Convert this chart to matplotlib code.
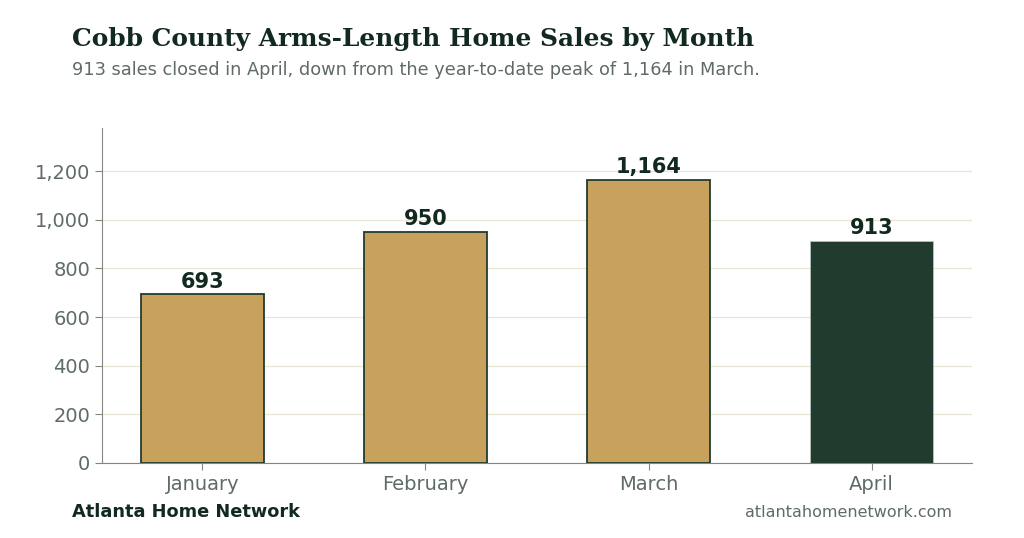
import matplotlib
matplotlib.use("Agg")
import matplotlib.pyplot as plt
from matplotlib.ticker import FuncFormatter

months = ["January", "February", "March", "April"]
sales = [693, 950, 1164, 913]

gold = "#C8A25C"
dark = "#213B2F"
ink = "#12291F"
grey = "#5F6B66"

fig = plt.figure(figsize=(10.24, 5.38), dpi=100)
ax = fig.add_axes([102 / 1024, 1 - 463 / 538, 870 / 1024, 335 / 538])

colors = [gold] * (len(months) - 1) + [dark]
edges = [dark] * (len(months) - 1) + ["#B8C0BB"]
widths = [1.3] * (len(months) - 1) + [0.6]
bars = ax.bar(range(len(months)), sales, width=0.55, color=colors,
              edgecolor=edges, linewidth=widths, zorder=3)

for b, v in zip(bars, sales):
    ax.text(b.get_x() + b.get_width() / 2, v + 10, f"{v:,}", ha="center",
            va="bottom", fontsize=15, fontweight="bold", color=ink)

ax.set_xlim(-0.45, 3.45)
ax.set_ylim(0, 1377)
ax.set_yticks(range(0, 1201, 200))
ax.yaxis.set_major_formatter(FuncFormatter(lambda v, p: f"{int(v):,}"))
ax.set_xticks(range(len(months)))
ax.set_xticklabels(months)
ax.tick_params(axis="both", labelsize=14, colors="#7F8884", labelcolor=grey, length=5)
ax.grid(axis="y", color="#EAE5D3", linewidth=0.9, zorder=0)
for s in ["top", "right"]:
    ax.spines[s].set_visible(False)
for s in ["left", "bottom"]:
    ax.spines[s].set_color("#7F8884")

fig.text(72 / 1024, 1 - 46 / 538, "Cobb County Arms-Length Home Sales by Month",
         family="DejaVu Serif", fontweight="bold", fontsize=17.9, color=ink)
fig.text(72 / 1024, 1 - 75 / 538,
         "913 sales closed in April, down from the year-to-date peak of 1,164 in March.",
         fontsize=12.75, color=grey)
fig.text(72 / 1024, 1 - 517 / 538, "Atlanta Home Network", fontsize=12.8,
         fontweight="bold", color=ink)
fig.text(952 / 1024, 1 - 517 / 538, "atlantahomenetwork.com", fontsize=11.5,
         color=grey, ha="right")

fig.savefig("out.png", dpi=100)
